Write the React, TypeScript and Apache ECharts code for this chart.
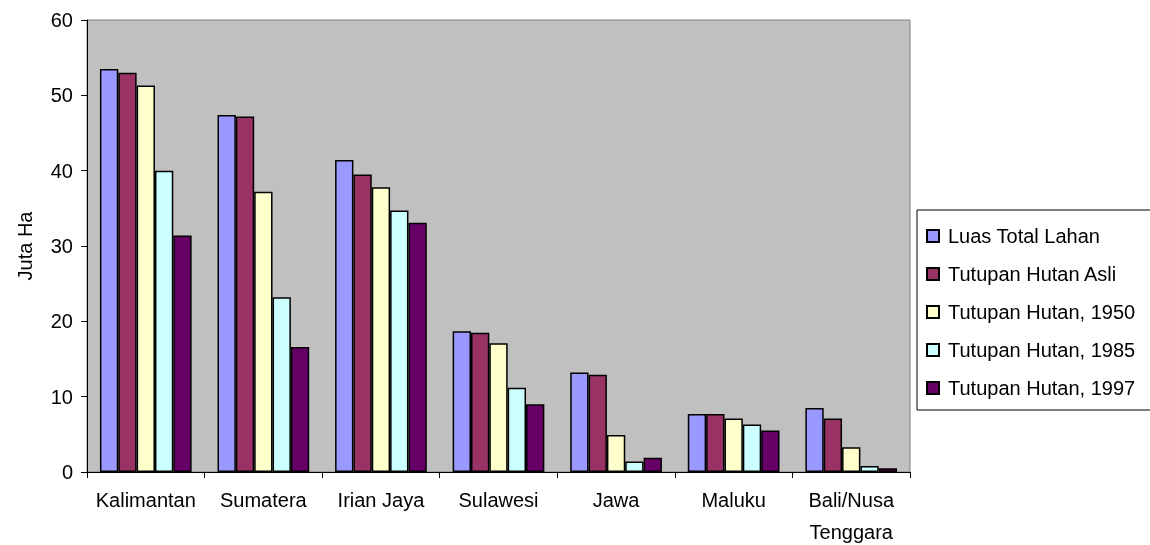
import React, { useEffect, useRef } from "react";
import * as echarts from "echarts";

const categories = ["Kalimantan", "Sumatera", "Irian Jaya", "Sulawesi", "Jawa", "Maluku", "Bali/Nusa\nTenggara"];
const seriesNames = ["Luas Total Lahan", "Tutupan Hutan Asli", "Tutupan Hutan, 1950", "Tutupan Hutan, 1985", "Tutupan Hutan, 1997"];
const luasTotal = [53.5, 47.4, 41.4, 18.7, 13.2, 7.7, 8.5];
const hutanAsli = [53.0, 47.2, 39.5, 18.5, 12.9, 7.7, 7.1];
const hutan1950 = [51.3, 37.2, 37.8, 17.1, 4.9, 7.1, 3.3];
const hutan1985 = [40.0, 23.2, 34.7, 11.2, 1.4, 6.3, 0.8];
const hutan1997 = [31.4, 16.6, 33.1, 9.0, 1.9, 5.5, 0.5];
const colors = ["#9999FF", "#993366", "#FFFFCC", "#CCFFFF", "#660066"];

export default function App() {
  const ref = useRef<HTMLDivElement>(null);
  useEffect(() => {
    if (!ref.current) return;
    const chart = echarts.init(ref.current, null, { renderer: "svg" });
    const data = [luasTotal, hutanAsli, hutan1950, hutan1985, hutan1997];
    const font = "Arial, 'Liberation Sans', sans-serif";
    chart.setOption({
      animation: false,
      textStyle: { fontFamily: font },
      grid: {
        left: 87, top: 20, right: 240, bottom: 73,
        outerBoundsMode: "none",
        containLabel: false,
        show: true, backgroundColor: "#C0C0C0", borderColor: "#808080", borderWidth: 1,
      },
      graphic: [
        {
          type: "rect",
          z: 0,
          shape: { x: 917, y: 210, width: 300, height: 200 },
          style: { fill: "#FFFFFF", stroke: "#000000", lineWidth: 1 },
        },
      ],
      legend: {
        orient: "vertical",
        left: 917, top: 210,
        padding: [16, 10, 12, 9],
        itemWidth: 12, itemHeight: 12, itemGap: 18,
        icon: "rect",
        textStyle: { fontSize: 20, color: "#000", fontFamily: font, lineHeight: 20, padding: [0, 0, 0, 4] },
        data: seriesNames,
      },
      xAxis: {
        type: "category",
        data: categories,
        axisLine: { lineStyle: { color: "#000", width: 1 } },
        axisTick: { show: true, alignWithLabel: false, length: 6, lineStyle: { color: "#000" } },
        axisLabel: { color: "#000", fontSize: 20, margin: 12, lineHeight: 32, interval: 0, fontFamily: font },
      },
      yAxis: {
        type: "value",
        min: 0, max: 60, interval: 10,
        name: "Juta Ha",
        nameLocation: "middle",
        nameGap: 52,
        nameTextStyle: { color: "#000", fontSize: 20, fontFamily: font },
        axisLine: { show: true, lineStyle: { color: "#000", width: 1 } },
        axisTick: { show: true, length: 6, lineStyle: { color: "#000" } },
        axisLabel: { color: "#000", fontSize: 20, margin: 14, fontFamily: font },
        splitLine: { show: false },
      },
      series: seriesNames.map((name, i) => ({
        name,
        type: "bar",
        data: data[i],
        barGap: "0%",
        barCategoryGap: "22%",
        itemStyle: { color: colors[i], borderColor: "#000", borderWidth: 1.5 },
      })),
    });
    return () => chart.dispose();
  }, []);
  return (
    <div
      ref={ref}
      style={{ position: "fixed", left: 0, top: 0, width: 1150, height: 545, overflow: "hidden" }}
    />
  );
}
